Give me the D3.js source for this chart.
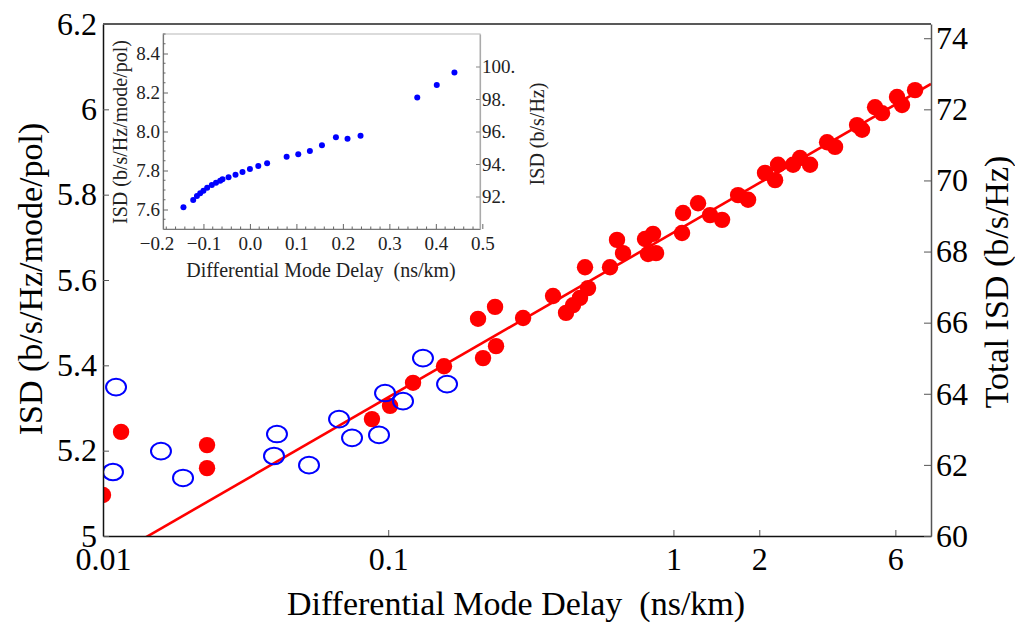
<!DOCTYPE html>
<html><head><meta charset="utf-8">
<script src="https://cdn.jsdelivr.net/npm/d3@7"></script>
<style>
body{margin:0;background:#fff}
svg text{font-family:"Liberation Serif","Tinos","Times New Roman","DejaVu Serif",serif !important; white-space:pre}
</style>
</head><body>
<svg id="c" width="1015" height="625"></svg>
<script>
// ---- main chart data (Differential Mode Delay ns/km vs ISD b/s/Hz/mode/pol)
const redX = [0.0100,0.01157,0.02316,0.02316,0.0877,0.1015,0.1222,0.1569,0.2150,0.2388,0.2065,0.2369,0.2971,0.3784,0.4202,0.4446,0.4703,0.5019,0.4898,0.5993,0.6341,0.6658,0.7952,0.8482,0.8146,0.8690,1.072,1.081,1.220,1.344,1.481,1.685,1.827,2.095,2.272,2.327,2.627,2.779,3.013,3.457,3.687,4.404,4.585,5.093,5.389,6.081,6.331,7.034];
const redY = [5.096,5.244,5.213,5.159,5.274,5.305,5.359,5.398,5.417,5.445,5.509,5.537,5.511,5.5625,5.523,5.541,5.558,5.581,5.630,5.630,5.694,5.663,5.696,5.708,5.661,5.663,5.710,5.757,5.780,5.752,5.741,5.799,5.788,5.851,5.834,5.870,5.870,5.886,5.870,5.923,5.912,5.963,5.952,6.005,5.991,6.029,6.010,6.045];
const blueX = [0.01111,0.01084,0.01597,0.01908,0.04074,0.03977,0.05276,0.06723,0.07467,0.09284,0.09746,0.1127,0.1324,0.1608];
const blueY = [5.349,5.150,5.199,5.136,5.239,5.1875,5.166,5.274,5.230,5.237,5.335,5.316,5.417,5.356];
const fitIntercept = 5.711, fitSlope = 0.386;   // ISD = a + b*log10(DMD)
const xTicks = [0.01,0.1,1,2,6];
const xTickLabels = ["0.01","0.1","1","2","6"];
const yTicks = [5,5.2,5.4,5.6,5.8,6,6.2];
const yTickLabels = ["5","5.2","5.4","5.6","5.8","6","6.2"];
const y2Ticks = [60,62,64,66,68,70,72,74];
const y2TickLabels = ["60","62","64","66","68","70","72","74"];
// ---- inset data
const insetX = [-0.143,-0.122,-0.114,-0.107,-0.100,-0.092,-0.082,-0.073,-0.064,-0.059,-0.046,-0.031,-0.016,0.000,0.018,0.037,0.079,0.104,0.129,0.155,0.185,0.210,0.238,0.360,0.402,0.440];
const insetY = [7.611,7.649,7.669,7.683,7.696,7.712,7.726,7.737,7.748,7.755,7.765,7.778,7.792,7.808,7.823,7.837,7.871,7.883,7.900,7.929,7.970,7.963,7.978,8.175,8.238,8.302];
const insetXTicks = [-0.2,-0.1,0.0,0.1,0.2,0.3,0.4,0.5];
const insetXTickLabels = ["\u22120.2","\u22120.1","0.0","0.1","0.2","0.3","0.4","0.5"];
const insetYTicks = [7.6,7.8,8.0,8.2,8.4];
const insetYTickLabels = ["7.6","7.8","8.0","8.2","8.4"];
const insetY2Ticks = [92,94,96,98,100];
const insetY2TickLabels = ["92.","94.","96.","98.","100."];

const svg = d3.select("#c");
const x = d3.scaleLog().domain([0.01, 8]).range([103, 931]);
const y = d3.scaleLinear().domain([5, 6.2]).range([536, 24]);
const y2 = d3.scaleLinear().domain([60, 74.4]).range([536, 24]);

svg.append("clipPath").attr("id","clip").append("rect")
  .attr("x", x.range()[0]).attr("y", y.range()[1])
  .attr("width", x.range()[1]-x.range()[0]).attr("height", y.range()[0]-y.range()[1]);

const plot = svg.append("g").attr("clip-path","url(#clip)");

// fit line
const fitXs = x.domain();
plot.append("path")
  .datum(fitXs.map(v => [v, fitIntercept + fitSlope*Math.log10(v)]))
  .attr("d", d3.line().x(d=>x(d[0])).y(d=>y(d[1])))
  .attr("stroke","#ff0000").attr("stroke-width",2.6).attr("fill","none");

plot.selectAll(".red").data(redX).join("circle")
  .attr("cx", d=>x(d)).attr("cy",(d,i)=>y(redY[i])).attr("r",8.2).attr("fill","#ff0000");

plot.selectAll(".blue").data(blueX).join("ellipse")
  .attr("cx", d=>x(d)).attr("cy",(d,i)=>y(blueY[i])).attr("rx",10).attr("ry",8.3)
  .attr("fill","none").attr("stroke","#0000ff").attr("stroke-width",2);

// frame top line
svg.append("line").attr("x1",x.range()[0]).attr("x2",x.range()[1])
  .attr("y1",y.range()[1]).attr("y2",y.range()[1]).attr("stroke","#222").attr("stroke-width",1.5);

function styleAxis(g, fs, col){
  g.attr("font-family",null);
  g.selectAll("text").attr("font-size",fs).attr("fill",col);
}
const gx = svg.append("g").attr("transform",`translate(0,${y.range()[0]})`)
  .call(d3.axisBottom(x).tickValues(xTicks).tickFormat((d,i)=>xTickLabels[i]).tickSize(-6).tickSizeOuter(0).tickPadding(11));
styleAxis(gx, 32, "#000");
gx.select(".domain").attr("stroke","#111").attr("stroke-width",1.5);
gx.selectAll(".tick line").attr("stroke","#555");

const gy = svg.append("g").attr("transform",`translate(${x.range()[0]},0)`)
  .call(d3.axisLeft(y).tickValues(yTicks).tickFormat((d,i)=>yTickLabels[i]).tickSize(-6).tickSizeOuter(0).tickPadding(6));
styleAxis(gy, 32, "#000");
gy.select(".domain").attr("stroke","#111").attr("stroke-width",1.5);
gy.selectAll(".tick line").attr("stroke","#555");

const gy2 = svg.append("g").attr("transform",`translate(${x.range()[1]},0)`)
  .call(d3.axisRight(y2).tickValues(y2Ticks).tickFormat((d,i)=>y2TickLabels[i]).tickSize(-7).tickSizeOuter(0).tickPadding(5));
styleAxis(gy2, 32, "#000");
gy2.select(".domain").attr("stroke","#555").attr("stroke-width",1.5);
gy2.selectAll(".tick line").attr("stroke","#555");

svg.append("text").attr("x",516).attr("y",615).attr("text-anchor","middle")
  .attr("font-size",34).text("Differential Mode Delay  (ns/km)");
svg.append("text").attr("transform","translate(42,279) rotate(-90)").attr("text-anchor","middle")
  .attr("font-size",34).text("ISD (b/s/Hz/mode/pol)");
svg.append("text").attr("transform","translate(1008,282) rotate(-90)").attr("text-anchor","middle")
  .attr("font-size",34).text("Total ISD (b/s/Hz)");

// ---- inset
const ix = d3.scaleLinear().domain([-0.187, 0.495]).range([163, 480]);
const iy = d3.scaleLinear().domain([7.5, 8.5]).range([229, 34]);
const iy2 = d3.scaleLinear().domain([90, 102]).range([229, 34]);
const ins = svg.append("g");
ins.append("rect").attr("x",ix.range()[0]).attr("y",iy.range()[1])
  .attr("width",ix.range()[1]-ix.range()[0]).attr("height",iy.range()[0]-iy.range()[1])
  .attr("fill","#fff").attr("stroke","#c4c4c4").attr("stroke-width",1.2);

const gix = ins.append("g").attr("transform",`translate(0,${iy.range()[0]})`)
  .call(d3.axisBottom(ix).tickValues(insetXTicks.filter(v=>v>=ix.domain()[0])).tickFormat(d=>insetXTickLabels[insetXTicks.indexOf(d)]).tickSize(-5).tickSizeOuter(0).tickPadding(8));
styleAxis(gix, 19, "#222");
// label for -0.2 (its tick lies just outside the frame)
gix.append("text").attr("x",ix(-0.2)).attr("y",8).attr("dy","0.71em").attr("text-anchor","middle")
  .attr("font-size",19).attr("fill","#222").text(insetXTickLabels[0]);
gix.selectAll(".minor").data(d3.range(-0.18,0.5,0.02).filter(v=>Math.abs(Math.round(v*10)-v*10)>0.01)).join("line")
  .attr("x1",d=>ix(d)).attr("x2",d=>ix(d)).attr("y1",0).attr("y2",-2.5).attr("stroke","#666");
gix.select(".domain").attr("stroke","#777").attr("stroke-width",1.2);
gix.selectAll(".tick line").attr("stroke","#666");

const giy = ins.append("g").attr("transform",`translate(${ix.range()[0]},0)`)
  .call(d3.axisLeft(iy).tickValues(insetYTicks).tickFormat((d,i)=>insetYTickLabels[i]).tickSize(-5).tickSizeOuter(0).tickPadding(3));
styleAxis(giy, 19, "#222");
giy.selectAll(".minor").data(d3.range(7.55,8.5,0.05).filter(v=>Math.abs(Math.round(v*5)-v*5)>0.01)).join("line")
  .attr("x1",0).attr("x2",2.5).attr("y1",d=>iy(d)).attr("y2",d=>iy(d)).attr("stroke","#666");
giy.select(".domain").attr("stroke","#777").attr("stroke-width",1.2);
giy.selectAll(".tick line").attr("stroke","#666");

const giy2 = ins.append("g").attr("transform",`translate(${ix.range()[1]},0)`)
  .call(d3.axisRight(iy2).tickValues(insetY2Ticks).tickFormat((d,i)=>insetY2TickLabels[i]).tickSize(-4).tickSizeOuter(0).tickPadding(2));
styleAxis(giy2, 19, "#222");
giy2.select(".domain").attr("stroke","#aaa").attr("stroke-width",1.2);
giy2.selectAll(".tick line").attr("stroke","#888");

ins.selectAll(".ipt").data(insetX).join("circle")
  .attr("cx",d=>ix(d)).attr("cy",(d,i)=>iy(insetY[i])).attr("r",3).attr("fill","#0000ff");

ins.append("text").attr("x",321).attr("y",277).attr("text-anchor","middle")
  .attr("font-size",20).attr("fill","#222").text("Differential Mode Delay  (ns/km)");
ins.append("text").attr("transform","translate(127,132) rotate(-90)").attr("text-anchor","middle")
  .attr("font-size",20).attr("fill","#222").text("ISD (b/s/Hz/mode/pol)");
ins.append("text").attr("transform","translate(544,134) rotate(-90)").attr("text-anchor","middle")
  .attr("font-size",20).attr("fill","#222").text("ISD (b/s/Hz)");
</script>
</body></html>
